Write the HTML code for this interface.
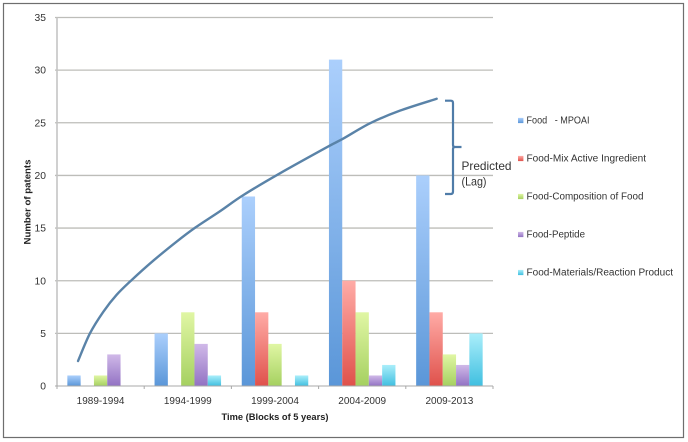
<!DOCTYPE html>
<html>
<head>
<meta charset="utf-8">
<title>Number of patents by time block</title>
<style>
html,body{margin:0;padding:0;background:#fff;width:688px;height:442px;overflow:hidden}
svg{display:block;filter:blur(.3px)}
text{font-family:"Liberation Sans",sans-serif;fill:#333}
</style>
</head>
<body>
<svg id="chart" xmlns="http://www.w3.org/2000/svg" width="688" height="442" viewBox="0 0 688 442">
<defs>
<linearGradient id="g0" x1="0" y1="0" x2="0" y2="1"><stop offset="0" stop-color="#abcffc"/><stop offset="1" stop-color="#5a96d8"/></linearGradient>
<linearGradient id="g1" x1="0" y1="0" x2="0" y2="1"><stop offset="0" stop-color="#ffaba6"/><stop offset="1" stop-color="#df514b"/></linearGradient>
<linearGradient id="g2" x1="0" y1="0" x2="0" y2="1"><stop offset="0" stop-color="#e0f6a4"/><stop offset="1" stop-color="#a5d060"/></linearGradient>
<linearGradient id="g3" x1="0" y1="0" x2="0" y2="1"><stop offset="0" stop-color="#d0b9e8"/><stop offset="1" stop-color="#9272c3"/></linearGradient>
<linearGradient id="g4" x1="0" y1="0" x2="0" y2="1"><stop offset="0" stop-color="#aaeefa"/><stop offset="1" stop-color="#40bfe0"/></linearGradient>
</defs>
<rect x="3.5" y="3.5" width="680" height="434" fill="#fff" stroke="#6e6e6e" stroke-width="1.2"/>
<g id="grid"></g>
<g id="bars"></g>
<g id="axes"></g>
<path id="trend" fill="none" stroke="#5a83a8" stroke-width="2.4" stroke-linecap="round"/>
<path d="M445 100.7H451Q453 100.7 453 103V145Q453 147 455 147H461.5M455 147Q453 147 453 149V191.5Q453 194 451 194H445" fill="none" stroke="#4f7ca8" stroke-width="2.2"/>
<text x="461.5" y="170" font-size="12" textLength="50" lengthAdjust="spacingAndGlyphs">Predicted</text>
<text x="461.5" y="185.5" font-size="12" textLength="25" lengthAdjust="spacingAndGlyphs">(Lag)</text>
<text transform="translate(30.5,202) rotate(-90)" text-anchor="middle" font-size="9.5" font-weight="bold" style="fill:#222" textLength="85" lengthAdjust="spacingAndGlyphs">Number of patents</text>
<text x="275" y="420" text-anchor="middle" font-size="9.5" font-weight="bold" style="fill:#222" textLength="107" lengthAdjust="spacingAndGlyphs">Time (Blocks of 5 years)</text>
<g id="legend"></g>
</svg>
<script>
var categories = ['1989-1994','1994-1999','1999-2004','2004-2009','2009-2013'];
var seriesNames = ['Food   - MPOAI','Food-Mix Active Ingredient','Food-Composition of Food','Food-Peptide','Food-Materials/Reaction Product'];
var foodMpoai = [1,5,18,31,20];
var foodMix = [0,0,7,10,7];
var foodComposition = [1,7,4,7,3];
var foodPeptide = [3,4,0,1,2];
var foodMaterials = [0,1,1,2,5];
var yTicks = [0,5,10,15,20,25,30,35];
var trendCategoryPos = [0.241,0.378,0.531,0.685,0.857,1.104,1.373,1.583,1.869,2.136,2.557,3.111,3.283,3.589,3.933,4.354];
var trendValues = [2.37,5.0,7.05,8.67,10.07,11.9,13.72,15.03,16.6,18.13,20.2,22.75,23.5,24.95,26.15,27.28];

var NS = 'http://www.w3.org/2000/svg';
var left = 57, right = 493, top0 = 17.5, bottom = 386, yMax = 35;
var groupW = (right - left) / categories.length;
var barW = 13.3;
var allSeries = [foodMpoai, foodMix, foodComposition, foodPeptide, foodMaterials];
var legendWidths = [63, 119.5, 117, 58.5, 146.5];

function yScale(v){ return bottom - v / yMax * (bottom - top0); }
function xScale(c){ return left + c * groupW; }
function make(tag, attrs, parent, text){
  var el = document.createElementNS(NS, tag);
  for (var k in attrs) el.setAttribute(k, attrs[k]);
  if (text !== undefined) el.textContent = text;
  parent.appendChild(el);
  return el;
}

var gridG = document.getElementById('grid');
var axesG = document.getElementById('axes');
var barsG = document.getElementById('bars');
var legendG = document.getElementById('legend');

yTicks.forEach(function(t){
  var y = yScale(t);
  if (t > 0) {
    var line = make('line', {x1:left - 2, x2:right, y1:y, y2:y, stroke:'#bdbdb9', 'stroke-width':1.3}, gridG);
    
    
  }
  var label = make('text', {x:46, y:y + 3.6, 'text-anchor':'end', 'font-size':10.3}, axesG, String(t));
  
  
});

allSeries.forEach(function(values, s){
  values.forEach(function(v, c){
    if (v <= 0) return;
    var x = xScale(c) + (groupW - barW * 5) / 2 + s * barW;
    var bar = make('rect', {x:x, y:yScale(v), width:barW, height:bottom - yScale(v), fill:'url(#g' + s + ')'}, barsG);
    
    
  });
});

var yAxis = make('line', {x1:left, x2:left, y1:top0, y2:bottom, stroke:'#c4c4c4', 'stroke-width':1.6}, axesG);


var xAxis = make('line', {x1:left - 2, x2:right, y1:bottom, y2:bottom, stroke:'#a8a8a8', 'stroke-width':1.1}, axesG);



categories.forEach(function(name, c){
  var label = make('text', {x:xScale(c + 0.5), y:404, 'text-anchor':'middle', 'font-size':10}, axesG, name);
  
  
});
for (var i = 0; i <= categories.length; i++) {
  var tick = make('line', {x1:xScale(i), x2:xScale(i), y1:bottom, y2:bottom + 3, stroke:'#a8a8a8', 'stroke-width':1}, axesG);
  
  
}

var pts = trendValues.map(function(v, i){ return [xScale(trendCategoryPos[i]), yScale(v)]; });
var d = 'M' + pts[0][0] + ' ' + pts[0][1];
for (var j = 0; j < pts.length - 1; j++) {
  var p0 = pts[Math.max(j - 1, 0)], p1 = pts[j], p2 = pts[j + 1], p3 = pts[Math.min(j + 2, pts.length - 1)];
  var c1x = p1[0] + (p2[0] - p0[0]) / 6, c1y = p1[1] + (p2[1] - p0[1]) / 6;
  var c2x = p2[0] - (p3[0] - p1[0]) / 6, c2y = p2[1] - (p3[1] - p1[1]) / 6;
  d += 'C' + c1x + ' ' + c1y + ' ' + c2x + ' ' + c2y + ' ' + p2[0] + ' ' + p2[1];
}
document.getElementById('trend').setAttribute('d', d);

seriesNames.forEach(function(name, s){
  var cy = 120.5 + s * 38;
  var swatch = make('rect', {x:518, y:cy - 2.6, width:5.4, height:5.2, fill:'url(#g' + s + ')'}, legendG);
  
  
  var label = make('text', {x:526.5, y:cy + 3.2, 'font-size':10, textLength:legendWidths[s], lengthAdjust:'spacingAndGlyphs'}, legendG, name);
  label.style.whiteSpace = 'pre';
  
  
});
</script>
</body>
</html>
